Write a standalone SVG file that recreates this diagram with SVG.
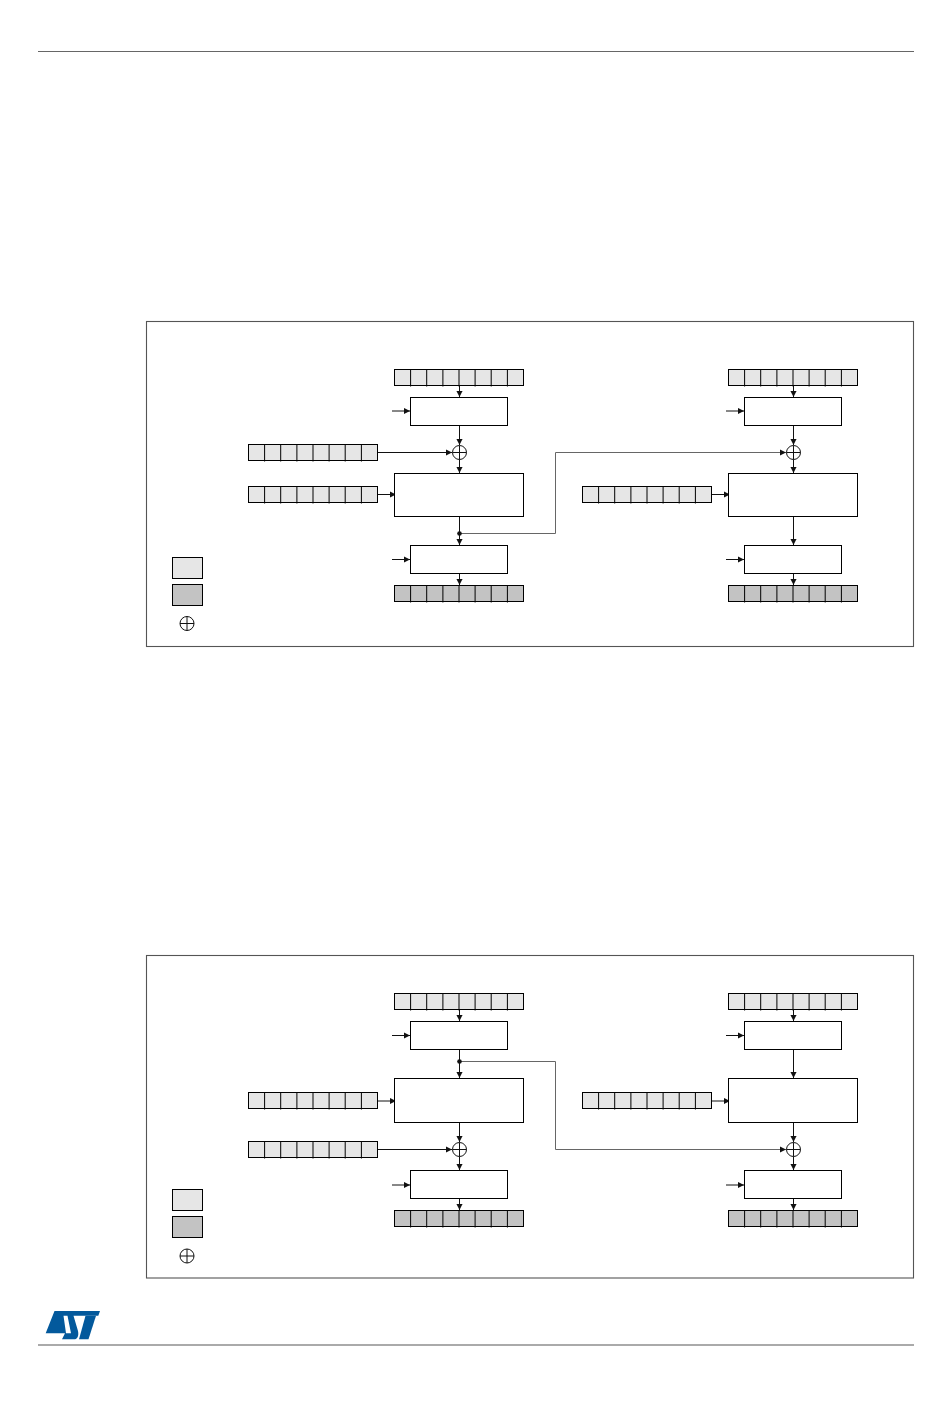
<svg xmlns="http://www.w3.org/2000/svg" xmlns:xlink="http://www.w3.org/1999/xlink" width="950" height="1420" viewBox="0 0 950 1420">
<style>
.frame{fill:#fff;stroke:#555;stroke-width:1.1}
.box{fill:#fff;stroke:#000;stroke-width:1}
.light{fill:#e6e6e6;stroke:#000;stroke-width:1}
.dark{fill:#c3c3c3;stroke:#000;stroke-width:1}
.wire{fill:none;stroke:#111;stroke-width:1;marker-end:url(#arrow)}
.loop{fill:none;stroke:#666;stroke-width:1;marker-end:url(#arrow)}
.plain{fill:none;stroke:#111;stroke-width:1}
.xor{fill:#fff;stroke:#111;stroke-width:1}
.dot{fill:#111}
.tick{stroke:#000;stroke-width:1;fill:none}
</style>
<defs>
<marker id="arrow" markerUnits="userSpaceOnUse" markerWidth="7" markerHeight="7" refX="6.5" refY="3.5" orient="auto"><path d="M0 0.2L6.500 3.500L0 6.800z" fill="#111"/></marker>
<g id="cells"><path class="tick" d="M16.1 0V17M32.2 0V17M48.4 0V17M64.5 0V17M80.6 0V17M96.7 0V17M112.9 0V17"/></g>
<g id="regL"><rect class="light" width="129" height="16"/><use xlink:href="#cells"/></g>
<g id="regD"><rect class="dark" width="129" height="16"/><use xlink:href="#cells"/></g>
<g id="xorSym"><circle class="xor" r="7"/><path class="plain" d="M-7 0H7M0 -7V7"/></g>
</defs>
<rect width="950" height="1420" fill="#fff"/>
<g id="page-rules"><path d="M38 51.500H914" fill="none" stroke="#666" stroke-width="1"/><path d="M38 1345H914" fill="none" stroke="#aaa" stroke-width="2"/></g>
<g id="logo"><path fill="#03599c" fill-rule="evenodd" d="M54.500 1311H100L98.300 1315.700H73.500L78 1331C79 1336 77.500 1339.300 74 1339.300H62L65 1333.300H45.700ZM63.500 1315.700L66 1333.300H71L67.500 1315.700Z"/><path fill="#03599c" d="M85.500 1315.700H96L88.500 1339.300H79Z"/></g>
<rect id="frame-top" class="frame" x="146.500" y="321.500" width="767" height="325"/>
<rect id="frame-bottom" class="frame" x="146.500" y="955.500" width="767" height="322.500"/>

<g id="connectors">
<path class="wire" d="M459.500 385.500V397"/><path class="wire" d="M392 411H410"/><path class="wire" d="M459.500 425.500V445"/><path class="wire" d="M377.500 452.500H452"/><path class="wire" d="M459.500 459V473"/><path class="wire" d="M377.500 494.500H396"/><path class="wire" d="M459.500 516.500V545"/><path class="wire" d="M392 559.500H410"/><path class="wire" d="M459.500 573.500V585"/>
<path class="loop" d="M459.500 533.500H555.500V452.500H786"/>
<path class="wire" d="M793.500 385.500V397"/><path class="wire" d="M726 411H744"/><path class="wire" d="M793.500 425.500V445"/><path class="wire" d="M793.500 459V473"/><path class="wire" d="M711.500 494.500H730"/><path class="wire" d="M793.500 516.500V545"/><path class="wire" d="M726 559.500H744"/><path class="wire" d="M793.500 573.500V585"/>

<path class="wire" d="M459.500 1009.500V1021"/><path class="wire" d="M392 1035.500H410"/><path class="wire" d="M459.500 1049.500V1078"/><path class="wire" d="M377.500 1101H396"/><path class="wire" d="M459.500 1122.500V1142"/><path class="wire" d="M377.500 1149.500H452"/><path class="wire" d="M459.500 1156V1170"/><path class="wire" d="M392 1185H410"/><path class="wire" d="M459.500 1198.500V1210"/>
<path class="loop" d="M459.500 1061.500H555.500V1149.500H786"/>
<path class="wire" d="M793.500 1009.500V1021"/><path class="wire" d="M726 1035.500H744"/><path class="wire" d="M793.500 1049.500V1078"/><path class="wire" d="M711.500 1101H730"/><path class="wire" d="M793.500 1122.500V1142"/><path class="wire" d="M793.500 1156V1170"/><path class="wire" d="M726 1185H744"/><path class="wire" d="M793.500 1198.500V1210"/>
<circle class="dot" cx="459.500" cy="533.500" r="2.300"/><circle class="dot" cx="459.500" cy="1061.500" r="2.300"/>
</g>

<g id="t-reg-in-1"><use xlink:href="#regL" x="394.500" y="369.500"/></g>
<g id="t-reg-in-2"><use xlink:href="#regL" x="728.500" y="369.500"/></g>
<g id="t-box1-1"><rect class="box" x="410.500" y="397.500" width="97" height="28"/></g>
<g id="t-box1-2"><rect class="box" x="744.500" y="397.500" width="97" height="28"/></g>
<g id="t-xor-1"><use xlink:href="#xorSym" x="459.500" y="452.500"/></g>
<g id="t-xor-2"><use xlink:href="#xorSym" x="793.500" y="452.500"/></g>
<g id="t-iv"><use xlink:href="#regL" x="248.500" y="444.500"/></g>
<g id="t-key-1"><use xlink:href="#regL" x="248.500" y="486.500"/></g>
<g id="t-key-2"><use xlink:href="#regL" x="582.500" y="486.500"/></g>
<g id="t-cipher-1"><rect class="box" x="394.500" y="473.500" width="129" height="43"/></g>
<g id="t-cipher-2"><rect class="box" x="728.500" y="473.500" width="129" height="43"/></g>
<g id="t-box3-1"><rect class="box" x="410.500" y="545.500" width="97" height="28"/></g>
<g id="t-box3-2"><rect class="box" x="744.500" y="545.500" width="97" height="28"/></g>
<g id="t-reg-out-1"><use xlink:href="#regD" x="394.500" y="585.500"/></g>
<g id="t-reg-out-2"><use xlink:href="#regD" x="728.500" y="585.500"/></g>
<g id="t-legend-light"><rect class="light" x="172.500" y="557.500" width="30" height="21"/></g>
<g id="t-legend-dark"><rect class="dark" x="172.500" y="584.500" width="30" height="21"/></g>
<g id="t-legend-xor"><use xlink:href="#xorSym" x="187" y="623.500"/></g>

<g id="b-reg-in-1"><use xlink:href="#regL" x="394.500" y="993.500"/></g>
<g id="b-reg-in-2"><use xlink:href="#regL" x="728.500" y="993.500"/></g>
<g id="b-box1-1"><rect class="box" x="410.500" y="1021.500" width="97" height="28"/></g>
<g id="b-box1-2"><rect class="box" x="744.500" y="1021.500" width="97" height="28"/></g>
<g id="b-cipher-1"><rect class="box" x="394.500" y="1078.500" width="129" height="44"/></g>
<g id="b-cipher-2"><rect class="box" x="728.500" y="1078.500" width="129" height="44"/></g>
<g id="b-key-1"><use xlink:href="#regL" x="248.500" y="1092.500"/></g>
<g id="b-key-2"><use xlink:href="#regL" x="582.500" y="1092.500"/></g>
<g id="b-iv"><use xlink:href="#regL" x="248.500" y="1141.500"/></g>
<g id="b-xor-1"><use xlink:href="#xorSym" x="459.500" y="1149.500"/></g>
<g id="b-xor-2"><use xlink:href="#xorSym" x="793.500" y="1149.500"/></g>
<g id="b-box3-1"><rect class="box" x="410.500" y="1170.500" width="97" height="28"/></g>
<g id="b-box3-2"><rect class="box" x="744.500" y="1170.500" width="97" height="28"/></g>
<g id="b-reg-out-1"><use xlink:href="#regD" x="394.500" y="1210.500"/></g>
<g id="b-reg-out-2"><use xlink:href="#regD" x="728.500" y="1210.500"/></g>
<g id="b-legend-light"><rect class="light" x="172.500" y="1189.500" width="30" height="21"/></g>
<g id="b-legend-dark"><rect class="dark" x="172.500" y="1216.500" width="30" height="21"/></g>
<g id="b-legend-xor"><use xlink:href="#xorSym" x="187" y="1256"/></g>
</svg>
